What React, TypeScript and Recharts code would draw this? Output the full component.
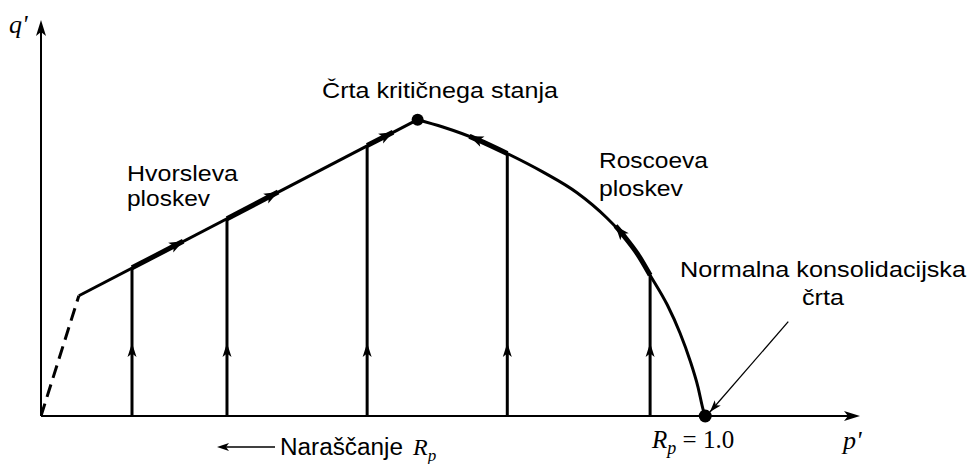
import {
  ComposedChart,
  Customized,
  Line,
  ReferenceDot,
  ReferenceLine,
  XAxis,
  YAxis,
} from "recharts";

// axis extent (p' = 1.0 is the normally consolidated point)
const P_MAX = 1.233;
const Q_MAX = 0.596;

type Pt = { p: number; q: number };

// no-tension cut (dashed) and Hvorslev surface up to the critical state point
const tensionCut: Pt[] = [
  { p: 0, q: 0 },
  { p: 0.057, q: 0.181 },
];
const hvorslev: Pt[] = [
  { p: 0.057, q: 0.181 },
  { p: 0.567, q: 0.446 },
];
const criticalState: Pt = { p: 0.567, q: 0.446 };
const nclPoint: Pt = { p: 1.0, q: 0 };

// Roscoe surface
const roscoe: Pt[] = [
  { p: 0.567, q: 0.446 },
  { p: 0.605, q: 0.435 },
  { p: 0.657, q: 0.416 },
  { p: 0.702, q: 0.395 },
  { p: 0.756, q: 0.367 },
  { p: 0.807, q: 0.336 },
  { p: 0.852, q: 0.298 },
  { p: 0.88, q: 0.268 },
  { p: 0.898, q: 0.244 },
  { p: 0.917, q: 0.212 },
  { p: 0.943, q: 0.167 },
  { p: 0.962, q: 0.125 },
  { p: 0.977, q: 0.084 },
  { p: 0.989, q: 0.044 },
  { p: 0.997, q: 0.009 },
  { p: 1.0, q: 0 },
];

// undrained stress paths (constant p') up to the state boundary surface
const pathP = [0.137, 0.28, 0.491, 0.702, 0.917];
const pathTopQ = [0.223, 0.297, 0.407, 0.395, 0.212];
const pathArrowQ = 0.11;

// where the paths then travel along the surface (thick runs, arrow at the end)
const surfaceRuns: Pt[][] = [
  [
    { p: 0.137, q: 0.223 },
    { p: 0.214, q: 0.263 },
  ],
  [
    { p: 0.28, q: 0.297 },
    { p: 0.357, q: 0.337 },
  ],
  [
    { p: 0.491, q: 0.407 },
    { p: 0.53, q: 0.427 },
  ],
  [
    { p: 0.702, q: 0.395 },
    { p: 0.657, q: 0.416 },
    { p: 0.645, q: 0.421 },
  ],
  [
    { p: 0.917, q: 0.212 },
    { p: 0.898, q: 0.244 },
    { p: 0.88, q: 0.268 },
    { p: 0.865, q: 0.286 },
  ],
];

// pointer to the NCL point
const nclPointer: Pt[] = [
  { p: 1.125, q: 0.142 },
  { p: 1.007, q: 0.006 },
];

const sans = "'Liberation Sans', Arial, sans-serif";
const serif = "'Liberation Serif', 'Times New Roman', serif";

// x and y use the same px per unit, so data direction == screen direction
const angleOf = (a: Pt, b: Pt) =>
  (Math.atan2(-(b.q - a.q), b.p - a.p) * 180) / Math.PI;

function Arrowhead({ cx, cy, angle, len = 13, half = 4.5 }: any) {
  return (
    <path
      d={`M0,0 L${-len},${-half} L${-len * 0.75},0 L${-len},${half} Z`}
      transform={`translate(${cx},${cy}) rotate(${angle})`}
      fill="#000"
    />
  );
}

function Labels() {
  return (
    <g fill="#000">
      <text x={9} y={33} fontFamily={serif} fontStyle="italic" fontSize={26}>
        q'
      </text>
      <text x={843} y={449} fontFamily={serif} fontStyle="italic" fontSize={26}>
        p'
      </text>
      <text x={652} y={448} fontFamily={serif} fontSize={25}>
        <tspan fontStyle="italic">R</tspan>
        <tspan fontStyle="italic" fontSize={18} dy={6}>
          p
        </tspan>
        <tspan dy={-6}> = 1.0</tspan>
      </text>
      <text x={280} y={455} fontFamily={sans} fontSize={23} textLength={123} lengthAdjust="spacingAndGlyphs">
        Naraščanje
      </text>
      <text x={413} y={455} fontFamily={serif} fontStyle="italic" fontSize={24}>
        R
        <tspan fontSize={17} dy={6}>
          p
        </tspan>
      </text>
      <line x1={275} y1={447} x2={226} y2={447} stroke="#000" strokeWidth={1.5} />
      <Arrowhead cx={217} cy={447} angle={180} len={12} half={4} />
      <text x={127} y={181} fontFamily={sans} fontSize={22} textLength={111} lengthAdjust="spacingAndGlyphs">
        Hvorsleva
      </text>
      <text x={127} y={206} fontFamily={sans} fontSize={22} textLength={83} lengthAdjust="spacingAndGlyphs">
        ploskev
      </text>
      <text x={322} y={98} fontFamily={sans} fontSize={22} textLength={236} lengthAdjust="spacingAndGlyphs">
        Črta kritičnega stanja
      </text>
      <text x={599} y={168} fontFamily={sans} fontSize={22} textLength={109} lengthAdjust="spacingAndGlyphs">
        Roscoeva
      </text>
      <text x={599} y={196} fontFamily={sans} fontSize={22} textLength={84} lengthAdjust="spacingAndGlyphs">
        ploskev
      </text>
      <text x={680} y={277} fontFamily={sans} fontSize={22} textLength={286} lengthAdjust="spacingAndGlyphs">
        Normalna konsolidacijska
      </text>
      <text x={802} y={305} fontFamily={sans} fontSize={22} textLength={42} lengthAdjust="spacingAndGlyphs">
        črta
      </text>
    </g>
  );
}

export default function App() {
  return (
    <div style={{ position: "absolute", left: 0, top: 0, width: 970, height: 464, background: "#fff" }}>
      <ComposedChart width={970} height={464} margin={{ top: 20, right: 110, bottom: 48, left: 41 }}>
        <XAxis type="number" dataKey="p" domain={[0, P_MAX]} hide allowDataOverflow />
        <YAxis type="number" dataKey="q" domain={[0, Q_MAX]} hide allowDataOverflow />

        {/* axes */}
        <ReferenceLine segment={[{ x: 0, y: 0 }, { x: P_MAX - 0.01, y: 0 }]} stroke="#000" strokeWidth={2} ifOverflow="visible" />
        <ReferenceLine segment={[{ x: 0, y: 0 }, { x: 0, y: Q_MAX - 0.01 }]} stroke="#000" strokeWidth={2} ifOverflow="visible" />
        <ReferenceDot x={P_MAX} y={0} ifOverflow="visible" shape={(s: any) => <Arrowhead cx={s.cx} cy={s.cy} angle={0} len={16} half={5} />} />
        <ReferenceDot x={0} y={Q_MAX} ifOverflow="visible" shape={(s: any) => <Arrowhead cx={s.cx} cy={s.cy} angle={-90} len={16} half={5} />} />

        <Line data={tensionCut} dataKey="q" type="linear" stroke="#000" strokeWidth={3} strokeDasharray="13 7" dot={false} isAnimationActive={false} />
        <Line data={hvorslev} dataKey="q" type="linear" stroke="#000" strokeWidth={3} dot={false} isAnimationActive={false} />
        <Line data={roscoe} dataKey="q" type="monotone" stroke="#000" strokeWidth={3} dot={false} isAnimationActive={false} />

        {pathP.map((p, i) => (
          <ReferenceLine
            key={`path-${i}`}
            segment={[{ x: p, y: 0 }, { x: p, y: pathTopQ[i] }]}
            stroke="#000"
            strokeWidth={3}
            ifOverflow="visible"
          />
        ))}
        {pathP.map((p, i) => (
          <ReferenceDot
            key={`path-arrow-${i}`}
            x={p}
            y={pathArrowQ}
            ifOverflow="visible"
            shape={(s: any) => <Arrowhead cx={s.cx} cy={s.cy} angle={-90} len={14} half={4.5} />}
          />
        ))}

        {surfaceRuns.map((run, i) => (
          <Line key={`run-${i}`} data={run} dataKey="q" type="monotone" stroke="#000" strokeWidth={5} dot={false} isAnimationActive={false} />
        ))}
        {surfaceRuns.map((run, i) => {
          const end = run[run.length - 1];
          const a = angleOf(run[run.length - 2], end);
          return (
            <ReferenceDot
              key={`run-arrow-${i}`}
              x={end.p}
              y={end.q}
              ifOverflow="visible"
              shape={(s: any) => <Arrowhead cx={s.cx} cy={s.cy} angle={a} len={14} half={5.5} />}
            />
          );
        })}

        <ReferenceLine segment={nclPointer.map((d) => ({ x: d.p, y: d.q }))} stroke="#000" strokeWidth={1.3} ifOverflow="visible" />
        <ReferenceDot
          x={nclPointer[1].p}
          y={nclPointer[1].q}
          ifOverflow="visible"
          shape={(s: any) => <Arrowhead cx={s.cx} cy={s.cy} angle={angleOf(nclPointer[0], nclPointer[1])} len={12} half={4} />}
        />

        <ReferenceDot x={criticalState.p} y={criticalState.q} r={6} fill="#000" stroke="none" ifOverflow="visible" />
        <ReferenceDot x={nclPoint.p} y={nclPoint.q} r={6.5} fill="#000" stroke="none" ifOverflow="visible" />

        <Customized component={<Labels />} />
      </ComposedChart>
    </div>
  );
}
